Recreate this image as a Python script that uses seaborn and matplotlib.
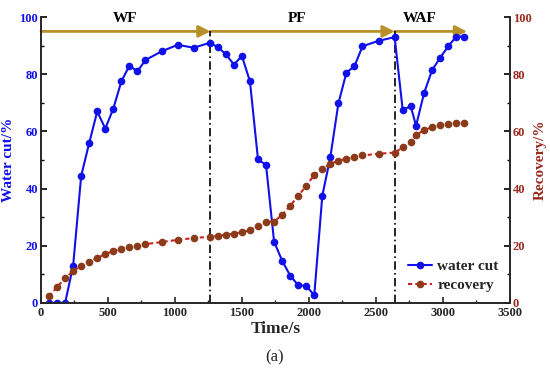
import matplotlib
matplotlib.use("Agg")
import matplotlib.pyplot as plt
import seaborn as sns
import pandas as pd
import numpy as np

time_s = [60, 120, 180, 240, 300, 360, 420, 480, 540, 600, 660, 720, 780, 900, 1020,
          1140, 1260, 1320, 1380, 1440, 1500, 1560, 1620, 1680, 1740, 1800, 1860, 1920,
          1980, 2040, 2100, 2160, 2220, 2280, 2340, 2400, 2520, 2640, 2700, 2760, 2800,
          2860, 2920, 2980, 3040, 3100, 3160]
water_cut = [0, 0, 0, 13, 44.4, 56, 67, 61, 68, 77.5, 83, 81, 85, 88, 90.3,
             89.3, 91, 89.5, 87, 83.4, 86.4, 77.5, 50.2, 48.3, 21.5, 14.8, 9.6, 6.2,
             6.0, 2.7, 37.5, 51, 69.8, 80.6, 82.8, 89.8, 91.7, 93, 67.6, 68.8, 62,
             73.5, 81.5, 85.8, 89.8, 93.2, 93.2]
recovery = [2.3, 5.6, 8.7, 11.2, 13.0, 14.4, 15.7, 17.1, 18.2, 19.0, 19.6, 20.1, 20.6, 21.3, 22.1,
            22.7, 23.2, 23.5, 23.8, 24.3, 24.7, 25.5, 26.8, 28.4, 28.5, 30.8, 34.0, 37.4,
            41.0, 44.8, 47.0, 48.6, 49.8, 50.4, 51.0, 51.6, 52.2, 52.6, 54.4, 56.3, 58.7,
            60.5, 61.5, 62.2, 62.6, 62.9, 62.9]
phases = ["WF", "PF", "WAF"]
phase_bounds = [0, 1265, 2640, 3180]
phase_label_x = [630, 1915, 2830]

df = pd.DataFrame({"time": time_s, "water_cut": water_cut, "recovery": recovery})

sns.set_style("ticks")
plt.rcParams["font.family"] = ["Liberation Serif", "DejaVu Serif"]
plt.rcParams["font.weight"] = "bold"

fig = plt.figure(figsize=(5.5, 3.72), dpi=100)
ax = fig.add_axes([0.0745, 0.1855, 0.8525, 0.7685])
ax2 = ax.twinx()

blue = "#1010e8"
red = "#d02020"
brown = "#8b3a1a"
rlabel = "#9b2a20"
gold = "#b8902a"

sns.lineplot(data=df, x="time", y="water_cut", ax=ax, color=blue, marker="o",
             markersize=5.5, markeredgewidth=0, linewidth=1.5, label="water cut", legend=False)
sns.lineplot(data=df, x="time", y="recovery", ax=ax2, color=red, marker="o",
             markersize=5.5, markerfacecolor=brown, markeredgewidth=0, linewidth=1.5,
             linestyle=(0, (2, 1.5)), label="recovery", legend=False)

ax.set_xlim(0, 3500)
ax.set_ylim(0, 100)
ax2.set_ylim(0, 100)
ax.set_xticks(np.arange(0, 3501, 500))
ax.set_xticks(np.arange(0, 3501, 250), minor=True)
ax.set_yticks(np.arange(0, 101, 20))
ax.set_yticks(np.arange(0, 101, 10), minor=True)
ax2.set_yticks(np.arange(0, 101, 20))
ax2.set_yticks(np.arange(0, 101, 10), minor=True)

for a in (ax, ax2):
    a.spines["top"].set_visible(False)
    for s in a.spines.values():
        s.set_linewidth(1.2)
    a.tick_params(which="major", length=4, width=1.2, direction="in", pad=2)
    a.tick_params(which="minor", length=2.5, width=1.0, direction="in")

ax.tick_params(axis="y", colors=blue, labelsize=9)
ax.tick_params(axis="y", which="both", color="black")
ax.tick_params(axis="x", labelsize=9, pad=3)
ax2.tick_params(axis="y", colors=rlabel, labelsize=9)
ax2.tick_params(axis="y", which="both", color="black")
for lbl in ax.get_xticklabels() + ax.get_yticklabels() + ax2.get_yticklabels():
    lbl.set_fontweight("bold")

ax.set_xlabel("Time/s", fontsize=12.5, fontweight="bold", labelpad=1)
ax.set_ylabel("Water cut/%", fontsize=11, fontweight="bold", color=blue, labelpad=3)
ax2.set_ylabel("Recovery/%", fontsize=11, fontweight="bold", color=rlabel, labelpad=2)

# phase arrows and separators
for i in range(len(phases)):
    ax.annotate("", xy=(phase_bounds[i + 1], 95), xytext=(phase_bounds[i], 95),
                arrowprops=dict(arrowstyle="-|>,head_length=0.7,head_width=0.35",
                                color=gold, lw=2, shrinkA=0, shrinkB=0), zorder=1)
    ax.text(phase_label_x[i], 99.5, phases[i], ha="center", va="center",
            fontsize=11, fontweight="bold", color="black")
for xb in phase_bounds[1:3]:
    ax.plot([xb, xb], [0, 95], color="black", lw=1.2, linestyle=(0, (5, 2, 1, 2)), zorder=1)

h1, l1 = ax.get_legend_handles_labels()
h2, l2 = ax2.get_legend_handles_labels()
leg = ax2.legend(h1 + h2, l1 + l2, loc="lower right", bbox_to_anchor=(1.005, -0.01),
                 frameon=False, prop={"weight": "bold", "size": 11}, handlelength=1.6,
                 handletextpad=0.3, labelspacing=0.35)

fig.text(0.5, 0.038, "(a)", ha="center", va="center", fontsize=12, fontweight="normal")

fig.savefig("out.png", dpi=100)
